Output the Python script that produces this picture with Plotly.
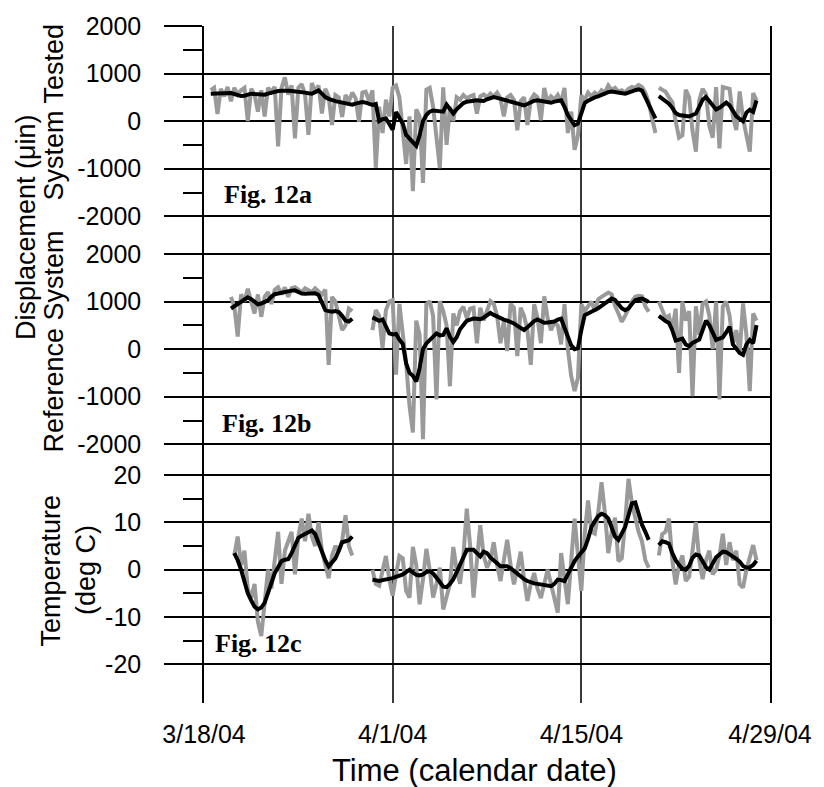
import pandas as pd
import plotly.graph_objects as go
from plotly.subplots import make_subplots

# Sampling interval of the logged records (hours)
STEP = "6h"

# ---------------- Fig. 12a: displacement, system tested (micro-inch) ----------------
a1_start = "2004-03-18 12:00"
a1_raw = [650, 700,
          150, 680, 520, 720,  420, 700, 560, 650,  700, 0, 680, 560,  200, 650, 100, 700,
          620, 720, -530, 700,  920, 560, 750, -360,  700, 780, 560, -290,  800, 620, 750, 160,
          680, 520, -80, 550,  500, 90, 550, 420,  600, 480, -10, 600,  620, 420, 650, -980,
          300, -250, 450, 100,  700, 750, 500, -300,  -900, 100, -1470, 250,  100, -1300, 660, 700,
          300, -340, -990, 710,  -500, 300, 0, 500,  450, 550, 480, 520,  550, 160, 520, 560,
          500, 580, 520, 600,  480, 100, 500, 550,  450, -190, 420, 500,  -80, 450, 560, 500,
          20, 700, 400, 520,  450, 550, 400, 700,  -250, 200, -600, -300,  540, 450, 600, 520,
          600, 550, 650, 600,  750, 650, 700, 620,  650, 600, 680, 720,  700, 760, 720, 600,
          400, 60, -250]
a1_avg = [575, 580,
          585, 590, 600, 600,  590, 570, 545, 527,  535, 560, 577, 570,  565, 560, 556, 580,
          600, 625, 635, 640,  646, 640, 635, 630,  625, 610, 600, 585,  577, 610, 646, 580,
          507, 470, 435, 420,  405, 390, 370, 340,  345, 370, 390, 403,  390, 360, 340, 360,
          0, 40, 56, -60,  -180, 190, 80, -50,  -290, -360, -430, -520,  -300, 0, 130, 200,
          225, 215, 200, 200,  347, 250, 160, 250,  330, 380, 410, 425,  435, 437, 430, 424,
          460, 490, 507, 490,  470, 450, 430, 417,  400, 375, 345, 333,  360, 400, 430, 437,
          420, 405, 395, 389,  410, 430, 437, 300,  130, 20, -83, -50,  200, 380, 430, 470,
          500, 520, 550, 590,  610, 625, 615, 600,  585, 577, 600, 630,  650, 667, 640, 500,
          333, 200, 60]
a2_start = "2004-04-20 18:00"
a2_raw = [700,
          660, 620, 500, 400,  0, -347, -300, 660,  500, -200, -640, 437,  680, 560, -100, -347,
          715, -570, 715, 700,  680, 90, -188, 625,  56, -300, -639, 590,
          437]
a2_avg = [527,
          480, 420, 368, 280,  170, 130, 115, 95,  100, 130, 160, 300,  450, 507, 420, 300,
          243, 280, 330, 389,  330, 200, 100, 50,  0, 180, 240, 194,
          437]

# ---------------- Fig. 12b: displacement, reference system (micro-inch) ----------------
b1_start = "2004-03-20 00:00"
b1_raw = [1100, 900, 264, 1150,  1000, 1270, 1000, 750,  1150, 680, 1100, 1200,
          950, 1250, 1300, 1150,  1300, 1100, 1280, 1300,  1250, 1200, 1280, 1250,
          1200, 1280, 1200, 1150,  1250, -330, 1100, 1000,  700, 400, 500, 850,
          800]
b1_avg = [854, 900, 950, 1000,  1060, 1090, 1050, 990,  944, 960, 1000, 1028,
          1100, 1155, 1170, 1190,  1201, 1215, 1230, 1236,  1200, 1170, 1167, 1175,
          1180, 1175, 1140, 1000,  819, 800, 785, 800,  780, 700, 600, 580,
          640]
b2_start = "2004-03-30 12:00"
b2_raw = [400, 820,
          700, 20, 820, 1000,  1028, -535, 950, 300,  -300, -1190, -1750, 600,  300, -1890, 940, 1010,
          700, -1056, 1010, 800,  500, -780, 750, 500,  800, 890, 650, 850,  870, 125, 870, 600,
          800, 1010, 950, 700,  125, 600, -42, 950,  870, -146, 870, 700,  400, -330, 944, 650,
          125, 1111, 650, 400,  550, 500, 100, 944,  0, -570, -880, -600,  944, 800, 900, 1000,
          800, 1050, 1100, 1153,  1190, 1150, 910, 750,  576, 700, 850, 1000,  1100, 1120, 1111, 900,
          785]
b2_avg = [667, 640,
          597, 625, 480, 333,  310, 320, 200, 110,  -300, -500, -560, -680,  -400, 0, 120, 200,
          280, 330, 290, 300,  437, 260, 150, 250,  420, 520, 597, 620,  646, 640, 630, 660,
          720, 760, 720, 680,  646, 620, 600, 576,  540, 490, 440, 403,  460, 528, 590, 625,
          590, 556, 560, 570,  580, 620, 640, 450,  280, 80, 0, 21,  400, 715, 750, 780,
          820, 860, 910, 960,  1030, 1062, 1035, 950,  860, 820, 854, 950,  1028, 1050, 1062, 1030,
          993]
b3_start = "2004-04-20 18:00"
b3_raw = [1000,
          800, 650, 700, 400,  850, -500, 1000, 600,  800, -986, 900, 300,  950, 1000, 700, 0,
          1000, -1056, 900, 1000,  700, 100, 400, -100,  960, 300, -882, 750,
          600]
b3_avg = [700,
          640, 590, 550, 400,  180, 200, 220, 100,  60, 130, 160, 200,  400, 597, 500, 350,
          194, 220, 250, 350,  472, 100, 0, -80,  -118, 100, 194, 125,
          507]

# ---------------- Fig. 12c: temperature (deg C) ----------------
c1_start = "2004-03-20 06:00"
c1_raw = [3, 7, 1,
          4, -4, -6, -3,  -11, -14, -6, 0,  -4, 2, 8, -3,  4, 6, 8, -1,
          7, 10.8, 6, 11.8,  7, 5, 10, 4,  1, -1.8, 3, 5,  4, 6, 11.5, 5,
          3]
c1_avg = [3.5, 2.0, 0,
          -2.5, -5, -6.5, -7.8,  -8.4, -8, -7, -5,  -3, -0.7, 0.5, 1.8,  2.1, 2.2, 3.5, 5,
          6.7, 7.2, 7.5, 8,  8.3, 7.5, 5.5, 3.5,  2, 0.7, 1.5, 2.4,  4, 5.8, 6, 6.2,
          7.0]
c2_start = "2004-03-30 12:00"
c2_raw = [0, -3,
          -3.4, 0, 2.9, -2,  -5.5, -1, 2.9, 2.4,  -4.5, -5.9, 4.8, 1,  -7.3, -2, 4.4, 0,
          -5.9, -3, 0.4, -8.4,  -6, -3.1, 4.8, 0,  -3, 3, 12.9, 5,  -5.9, 2, 9.4, 3,
          0.4, 2, 5.8, 1,  -2.4, 2, 6.3, 1,  -3.1, 0, 3.8, -2,  -6.6, -3, -0.7, -4,
          -6, -3, 0, -3,  -6, -9.1, 3.5, -2,  -7.3, 2, 10.8, 3,  -4.5, 7.6, 14.6, 8,
          7.6, 12, 18.5, 12,  3.5, 8, 11, 1.8,  2.4, 10, 19.2, 14,  10.8, 8, 6, 2,
          0.4]
c2_avg = [-2.1, -2.3,
          -2.4, -2.2, -2.1, -2.0,  -1.8, -1.5, -1.3, -1,  -0.5, 0, -0.6, -1.1,  -1.2, -1.0, -0.5, -0.3,
          -0.8, -1.6, -2.6, -3.6,  -3.7, -3.0, -2.0, -0.5,  1.0, 2.8, 4.2, 4.2,  4.2, 3.5, 2.8, 3.8,
          3.5, 2.6, 2.0, 1.2,  0.7, 0.7, 0.7, 0.3,  -0.3, -0.9, -1.4, -2.0,  -2.4, -2.7, -2.9, -3.0,
          -3.1, -3.2, -3.3, -3.5,  -3.0, -2.1, -2.2, -2.4,  -1.0, 0.5, 1.8, 2.8,  3.6, 4.5, 6.5, 9.0,
          10.2, 11.3, 11.8, 11.5,  10.8, 9.0, 7.0, 6.3,  7.5, 9.0, 11.5, 14.0,  14.2, 11.8, 9.5, 8.0,
          6.3]
c3_start = "2004-04-20 18:00"
c3_raw = [3,
          7.5, 8, 10.8, 2,  -3.1, 1, 3, -2.4,  -1.5, 4, 10.1, 2,  -2, 2, 4, -1,
          0, 3, 7.6, 1,  5.8, 2, 4, -3.1,  -3.8, 0, 3, 5.2,
          2]
c3_avg = [5.2,
          6.0, 5.8, 5.5, 3.5,  2.0, 1.0, 0.2, 0,  0.8, 2.5, 3.2, 3.0,  1.8, 0.5, 0, 1.5,
          2.6, 3.2, 3.8, 3.7,  3.3, 2.9, 2.3, 1.7,  0.8, 0.4, 0.5, 1.0,
          1.9]

panels = [
    [(a1_start, a1_raw, a1_avg), (a2_start, a2_raw, a2_avg)],
    [(b1_start, b1_raw, b1_avg), (b2_start, b2_raw, b2_avg), (b3_start, b3_raw, b3_avg)],
    [(c1_start, c1_raw, c1_avg), (c2_start, c2_raw, c2_avg), (c3_start, c3_raw, c3_avg)],
]

date_ticks = ["2004-03-18", "2004-04-01", "2004-04-15", "2004-04-29"]
date_labels = ["3/18/04", "4/1/04", "4/15/04", "4/29/04"]
disp_ticks = [-2000, -1000, 0, 1000, 2000]
disp_minor = [-1500, -500, 500, 1500]
temp_ticks = [-20, -10, 0, 10, 20]
temp_minor = [-15, -5, 5, 15]

SANS = "Liberation Sans, Arial, sans-serif"
SERIF = "Liberation Serif, Times New Roman, serif"
RAW_COLOR = "#9a9a9a"
AVG_COLOR = "#000000"

fig = make_subplots(rows=3, cols=1, shared_xaxes=True, vertical_spacing=0)

for row, segments in enumerate(panels, start=1):
    for start, raw, avg in segments:
        t_raw = pd.date_range(start, periods=len(raw), freq=STEP)
        t_avg = pd.date_range(start, periods=len(avg), freq=STEP)
        fig.add_trace(go.Scatter(x=t_raw, y=raw, mode="lines",
                                 line=dict(color=RAW_COLOR, width=4),
                                 hoverinfo="skip", showlegend=False), row=row, col=1)
        fig.add_trace(go.Scatter(x=t_avg, y=avg, mode="lines",
                                 line=dict(color=AVG_COLOR, width=4),
                                 hoverinfo="skip", showlegend=False), row=row, col=1)

W, H = 824, 787
L, R, T, B = 204, 45, 20, 84
PW, PH = W - L - R, H - T - B


def px_x(p):
    return (p - L) / PW


def px_y(p):
    return (H - B - p) / PH


common_y = dict(
    showgrid=True, gridcolor="#000000", gridwidth=1.5, zeroline=False,
    showline=True, linecolor="#000000", linewidth=1.5, mirror=True,
    ticks="outside", ticklen=38, tickwidth=1.5, tickcolor="#000000",
    ticklabelstandoff=18, tickfont=dict(family=SANS, size=25, color="#000000"),
    tickmode="array",
)

fig.update_layout(
    width=W, height=H,
    margin=dict(l=L, r=R, t=T, b=B),
    paper_bgcolor="white", plot_bgcolor="white",
    yaxis=dict(domain=[px_y(231), 1.0], range=[-2396, 2000], tickvals=disp_ticks,
               ticktext=[str(v) for v in disp_ticks],
               minor=dict(tickmode="array", tickvals=disp_minor, ticks="outside", ticklen=19,
                          tickwidth=1.5, tickcolor="#000000", showgrid=False),
               **common_y),
    yaxis2=dict(domain=[px_y(457), px_y(231)], range=[-2312, 2396], tickvals=disp_ticks,
                ticktext=[str(v) for v in disp_ticks],
                minor=dict(tickmode="array", tickvals=disp_minor, ticks="outside", ticklen=19,
                           tickwidth=1.5, tickcolor="#000000", showgrid=False),
                **common_y),
    yaxis3=dict(domain=[0.0, px_y(457)], range=[-28.17, 23.35], tickvals=temp_ticks,
                ticktext=[str(v) for v in temp_ticks],
                minor=dict(tickmode="array", tickvals=temp_minor, ticks="outside", ticklen=19,
                           tickwidth=1.5, tickcolor="#000000", showgrid=False),
                **common_y),
)

for name in ["xaxis", "xaxis2", "xaxis3"]:
    fig.layout[name].update(
        type="date", range=[date_ticks[0], date_ticks[-1]],
        tickmode="array", tickvals=date_ticks, ticktext=date_labels,
        showgrid=True, gridcolor="#3a3a3a", gridwidth=1.6,
        showline=False, zeroline=False, ticks="",
        showticklabels=(name == "xaxis3"),
        ticklabelstandoff=14,
        tickfont=dict(family=SANS, size=25, color="#000000"),
    )

notes = [
    dict(text="Displacement (μin)", x=px_x(23), y=px_y(223), textangle=-90, size=27),
    dict(text="System Tested", x=px_x(52), y=px_y(107), textangle=-90, size=27),
    dict(text="Reference System", x=px_x(52), y=px_y(338), textangle=-90, size=27),
    dict(text="Temperature", x=px_x(49), y=px_y(569), textangle=-90, size=27),
    dict(text="(deg C)", x=px_x(84), y=px_y(569), textangle=-90, size=27),
    dict(text="Time (calendar date)", x=px_x(479), y=px_y(771), textangle=0, size=31),
]
for n in notes:
    fig.add_annotation(text=n["text"], x=n["x"], y=n["y"], xref="paper", yref="paper",
                       xanchor="center", yanchor="middle", textangle=n["textangle"],
                       showarrow=False, font=dict(family=SANS, size=n["size"], color="#000000"))

for label, lx, ly in [("Fig. 12a", 222, 190), ("Fig. 12b", 220, 421), ("Fig. 12c", 213, 643)]:
    fig.add_annotation(text="<b>%s</b>" % label, x=px_x(lx), y=px_y(ly), xref="paper", yref="paper",
                       xanchor="left", yanchor="middle", showarrow=False,
                       font=dict(family=SERIF, size=26, color="#000000"))

# Keep the figure flush with the page edges (no default body margin / scrollbars)
fig.write_html("out.html",
               post_script="document.body.style.margin='0px';document.body.style.overflow='hidden';")
